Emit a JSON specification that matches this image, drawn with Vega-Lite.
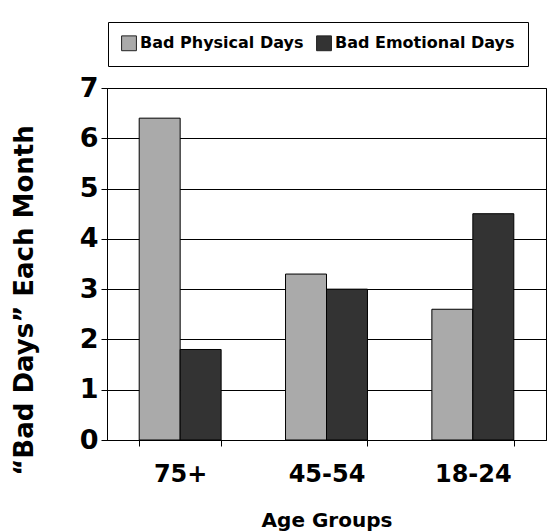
{
  "$schema": "https://vega.github.io/schema/vega-lite/v6.json",
  "autosize": "none",
  "width": 439,
  "height": 352,
  "padding": {"left": 107, "top": 88, "right": 9, "bottom": 92},
  "background": "white",
  "data": {"values": [
    {"age": "75+", "type": "Bad Physical Days", "value": 6.4},
    {"age": "75+", "type": "Bad Emotional Days", "value": 1.8},
    {"age": "45-54", "type": "Bad Physical Days", "value": 3.3},
    {"age": "45-54", "type": "Bad Emotional Days", "value": 3.0},
    {"age": "18-24", "type": "Bad Physical Days", "value": 2.6},
    {"age": "18-24", "type": "Bad Emotional Days", "value": 4.5}
  ]},
  "mark": {"type": "bar", "stroke": "black", "strokeWidth": 1},
  "encoding": {
    "x": {
      "field": "age", "type": "nominal", "sort": ["75+", "45-54", "18-24"],
      "scale": {"paddingInner": 0.44, "paddingOuter": 0.22},
      "axis": {
        "title": "Age Groups", "labelAngle": 0,
        "labelFont": "DejaVu Sans", "labelFontWeight": "bold", "labelFontSize": 24, "labelColor": "black",
        "labelPadding": 16, "tickBand": "extent", "tickSize": 6, "tickColor": "black", "domainColor": "black",
        "titleFont": "DejaVu Sans", "titleFontWeight": "bold", "titleFontSize": 20, "titleColor": "black", "titlePadding": 24
      }
    },
    "xOffset": {"field": "type", "sort": ["Bad Physical Days", "Bad Emotional Days"]},
    "y": {
      "field": "value", "type": "quantitative",
      "scale": {"domain": [0, 7], "nice": false},
      "axis": {
        "title": "“Bad Days” Each Month", "values": [0,1,2,3,4,5,6,7], "labelOverlap": false,
        "labelFont": "DejaVu Sans", "labelFontWeight": "bold", "labelFontSize": 27, "labelColor": "black", "labelPadding": 3,
        "tickSize": 6, "tickColor": "black", "domainColor": "black",
        "grid": true, "gridColor": "black", "gridOpacity": 1,
        "titleFont": "DejaVu Sans", "titleFontWeight": "bold", "titleFontSize": 26, "titleColor": "black",
        "titleAngle": 270, "titleAlign": "center", "titleBaseline": "middle", "titleX": -83, "titleY": 212
      }
    },
    "color": {
      "field": "type", "type": "nominal",
      "scale": {"domain": ["Bad Physical Days", "Bad Emotional Days"], "range": ["#aaaaaa", "#333333"]},
      "legend": {
        "title": null, "orient": "none", "direction": "horizontal", "legendX": 1, "legendY": -66,
        "strokeColor": "black", "padding": 13, "fillColor": "white",
        "symbolType": "square", "symbolSize": 220, "symbolStrokeColor": "#222222", "symbolStrokeWidth": 1,
        "labelFont": "DejaVu Sans", "labelFontWeight": "bold", "labelFontSize": 16, "labelColor": "black",
        "columnPadding": 10, "labelOffset": 3, "labelLimit": 300
      }
    }
  },
  "config": {"view": {"stroke": "black", "strokeWidth": 1}}
}
